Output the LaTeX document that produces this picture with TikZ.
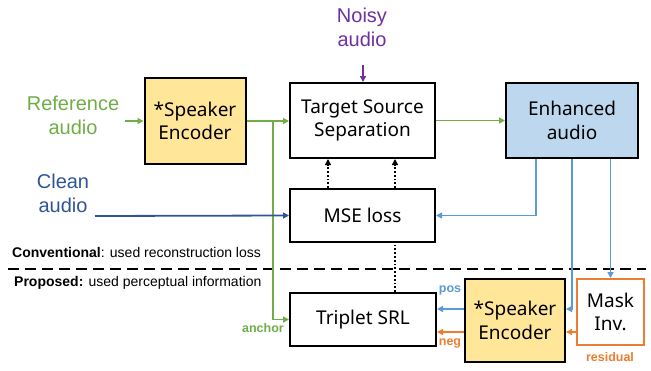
\documentclass[tikz,border=0pt]{standalone}
\usepackage{fontspec}
\setmainfont{Liberation Sans}
\newfontfamily\boxfont{Noto Sans}
\usetikzlibrary{arrows.meta,positioning}
\definecolor{cgreen}{HTML}{70AD47}
\definecolor{cblue}{HTML}{5B9BD5}
\definecolor{corange}{HTML}{ED7D31}
\definecolor{cdblue}{HTML}{2F5597}
\definecolor{cpurple}{HTML}{7030A0}
\definecolor{cyellow}{HTML}{FFE699}
\definecolor{cfillblue}{HTML}{BDD7EE}
\tikzset{
  blk/.style={draw=black, line width=2pt, inner sep=0pt, align=center,
    font=\boxfont\fontsize{19}{23.5}\selectfont},
  lbl/.style={inner sep=0pt, align=center, font=\fontsize{20}{24}\selectfont},
  small/.style={inner sep=0pt, font=\bfseries\fontsize{12.5}{14}\selectfont},
  tip/.style={-{Triangle[length=6pt,width=6pt]}},
  garr/.style={tip, draw=cgreen, line width=1.8pt},
  barr/.style={tip, draw=cblue, line width=1.8pt},
  oarr/.style={tip, draw=corange, line width=1.8pt},
  dotarr/.style={draw=black, line width=1.8pt, dotted}
}
\begin{document}
\begin{tikzpicture}[x=1pt,y=-1pt]
\useasboundingbox (0,0) rectangle (651,370);
% boxes
\node[blk, fill=cyellow, minimum width=101pt, minimum height=86pt] (se1) at (195,121) {*Speaker\\Encoder};
\node[blk, minimum width=145pt, minimum height=75pt] (tss) at (362.5,120.5) {Target Source\\Separation};
\node[blk, fill=cfillblue, minimum width=132pt, minimum height=75pt] (enh) at (572,120.5) {Enhanced\\audio};
\node[blk, minimum width=145pt, minimum height=53pt] (mse) at (362.5,215.5) {MSE loss};
\node[blk, minimum width=146pt, minimum height=53pt] (trip) at (363,319.5) {Triplet SRL};
\node[blk, fill=cyellow, minimum width=100pt, minimum height=83pt] (se2) at (515,320.5) {*Speaker\\Encoder};
\node[blk, draw=corange, minimum width=67pt, minimum height=66pt] (mask) at (610.5,312) {Mask\\Inv.};
% input labels
\node[lbl, text=cgreen] (ref) at (73,115) {Reference\\audio};
\node[lbl, text=cdblue] (clean) at (63,193) {Clean\\audio};
\node[lbl, text=cpurple] (noisy) at (362,27) {Noisy\\audio};
\coordinate (refend) at (125,121);
\coordinate (cleanend) at (95,216);
\coordinate (noisyend) at (363,65);
\coordinate (j1) at (273,121);
% section texts
\node[inner sep=0pt, anchor=west, font=\fontsize{14}{16}\selectfont] (conv) at (12,252) {\textbf{Conventional}: used reconstruction loss};
\node[inner sep=0pt, anchor=west, font=\fontsize{14}{16}\selectfont] (prop) at (14,283) {\textbf{Proposed:} used perceptual information};
\coordinate (dl) at (8,269);
\coordinate (dr) at (646,269);
\draw[line width=2.6pt, dash pattern=on 11pt off 6pt] (dl) -- (dr);
% connectors
\draw[garr] (refend) -- (se1.west |- refend);
\draw[garr] (se1.east) -- (tss.west |- se1.east);
\draw[garr] (j1) |- (trip.west);
\draw[garr] (tss.east) -- (enh.west);
\draw[tip, draw=cdblue, line width=1.8pt] (cleanend) -- (mse.west);
\draw[tip, draw=cpurple, line width=1.8pt] (noisyend) -- (tss.north -| noisyend);
\draw[dotarr, -{Triangle[length=6pt,width=6pt]}] ([xshift=-34.5pt]mse.north) -- ([xshift=-34.5pt]tss.south);
\draw[dotarr, -{Triangle[length=6pt,width=6pt]}] ([xshift=32.5pt]mse.north) -- ([xshift=32.5pt]tss.south);
\draw[dotarr] ([xshift=32pt]trip.north) -- ([xshift=32.5pt]mse.south);
\draw[barr] ([xshift=-36pt]enh.south) |- (mse.east);
\draw[barr] (enh.south) |- ([yshift=11.5pt]se2.east);
\draw[barr] (mask.north |- enh.south) -- (mask.north);
\draw[barr] ([yshift=11.5pt]se2.west) -- ([yshift=11.5pt]se2.west -| trip.east);
\draw[oarr] ([yshift=-11.5pt]se2.west) -- ([yshift=-11.5pt]se2.west -| trip.east);
\draw[oarr] ([yshift=-20pt]mask.west) -- ([yshift=-20pt]mask.west -| se2.east);
% small labels
\node[small, text=cgreen, anchor=east] (anc) at (284,328) {anchor};
\node[small, text=cblue] (pos) at (450,290) {pos};
\node[small, text=corange] (neg) at (450,343) {neg};
\node[small, text=corange] (res) at (610,357) {residual};
\end{tikzpicture}
\end{document}
